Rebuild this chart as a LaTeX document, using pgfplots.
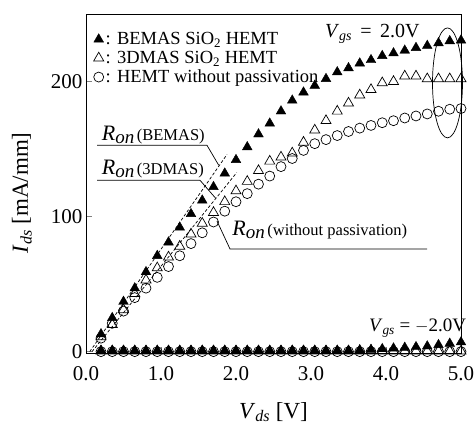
\documentclass[border=0pt]{standalone}
\usepackage{fontspec}
\setmainfont{Liberation Serif}
\usepackage{pgfplots}
\pgfplotsset{compat=1.18}
\pgfplotstableread{
V     A     B     C     Am   Bm   Cm
0.20  13    11    10    0.8  0.4  0
0.35  25    20    21    0.8  0.4  0
0.50  37    31    30    0.8  0.4  0
0.65  47    43    40    0.8  0.4  0
0.80  59    53    47    0.8  0.4  0
0.95  71    62    55    0.8  0.4  0
1.10  81    70    63    0.8  0.4  0
1.25  92    78    71    0.8  0.4  0
1.40  102   87    80    0.8  0.4  0
1.55  112   95    88    0.8  0.4  0
1.70  122   103   96    0.8  0.4  0
1.85  132   111   104   0.8  0.4  0
2.00  142   119   111   0.8  0.4  0
2.15  151.5 126   117   0.8  0.4  0
2.30  161   134   124   0.8  0.4  0
2.45  169   141   130   0.8  0.4  0
2.60  178   144   137   0.8  0.4  0
2.75  186   147   143   0.8  0.4  0
2.90  192   155   149   0.8  0.4  0
3.05  197   164   154   0.8  0.4  0
3.20  202   171   157   0.8  0.4  0
3.35  207   178   160   0.8  0.4  0
3.50  210   184   163   0.8  0.4  0
3.65  213.5 190   165.5 1.2  0.4  0
3.80  216   194   167.5 1.5  0.4  0
3.95  219   199   169.5 2.0  0.4  0
4.10  221   200   171   2.5  0.4  0
4.25  223   204   173   3.0  0.4  0
4.40  225   204   174.5 3.5  0.4  0
4.55  226.5 202   176   4.0  0.4  0
4.70  228.5 202   178   5.0  0.4  0
4.85  230   202   179.5 6.0  0.4  0
5.00  230.5 202   180   7.0  0.4  0
}\datatable
\newcommand{\Ron}[1]{{\fontsize{22}{22}\selectfont\textit{R}\raisebox{-3pt}{\fontsize{19}{19}\selectfont\textit{on}}}\ {\fontsize{16.5}{16.5}\selectfont(#1)}}
\begin{document}
\begin{tikzpicture}
\begin{axis}[
  scale only axis, width=375pt, height=339pt,
  xmin=0, xmax=5, ymin=-1, ymax=250,
  clip=false,
  axis line style={line width=0.8pt},
  xtick={0,1,2,3,4,5}, ytick={0,100,200},
  xticklabel={\pgfmathprintnumber[fixed,fixed zerofill,precision=1]{\tick}},
  /pgf/number format/assume math mode=true,
  tick label style={font=\fontsize{21}{21}\selectfont},
  xticklabel style={yshift=-10pt},
  xtick pos=bottom, ytick pos=left, tick align=inside, major tick length=6pt,
  tick style={line width=0.8pt},
  xlabel={\textit{V}\textsubscript{\textit{ds}} [V]},
  ylabel={\textit{I}\textsubscript{\textit{ds}} [mA/mm]},
  label style={font=\fontsize{23}{23}\selectfont},
  xlabel style={at={(axis description cs:0.5,-0.174)}, anchor=center},
  ylabel style={at={(axis description cs:-0.171,0.472)}, anchor=center},
  legend style={draw=none, fill=none, at={(axis cs:0.1,238)}, anchor=north west,
    font=\fontsize{18.5}{18.5}\selectfont, row sep=1pt, inner sep=0pt,
    /tikz/every even column/.append style={column sep=0pt}},
  legend cell align=left,
  legend image code/.code={\draw[#1] plot coordinates {(0pt,0pt)};},
]
% fits (R_on)
\addplot[black, dash pattern=on 3pt off 2pt, line width=0.7pt, forget plot] coordinates {(0.05,0) (1.88,146)};
\addplot[black, dash pattern=on 3pt off 2pt, line width=0.7pt, forget plot] coordinates {(0.08,0) (2.01,132.6)};
% Vgs = 2.0 V
\addplot[only marks, mark=triangle*, mark size=5.6pt, black, fill=black] table[x=V, y=A] {\datatable};
\addlegendentry{: BEMAS SiO\textsubscript{2} HEMT}
\addplot[only marks, mark=triangle, mark size=5.8pt, black, line width=0.7pt] table[x=V, y=B] {\datatable};
\addlegendentry{: 3DMAS SiO\textsubscript{2} HEMT}
\addplot[only marks, mark=o, mark size=5pt, black, line width=0.7pt] table[x=V, y=C] {\datatable};
\addlegendentry{: HEMT without passivation}
% Vgs = -2.0 V
\addplot[only marks, mark=o, mark size=5pt, black, line width=0.7pt, forget plot] table[x=V, y=Cm] {\datatable};
\addplot[only marks, mark=triangle, mark size=5.8pt, black, line width=0.7pt, forget plot] table[x=V, y=Bm] {\datatable};
\addplot[only marks, mark=triangle*, mark size=5.6pt, black, fill=black, forget plot] table[x=V, y=Am] {\datatable};
% annotations
\draw[line width=0.7pt] (axis cs:0.147,152.8) -- (axis cs:1.613,152.8) -- (axis cs:1.77,138);
\node[anchor=base west, inner sep=0pt] at (axis cs:0.21,156) {\Ron{BEMAS}};
\draw[line width=0.7pt] (axis cs:0.147,126.9) -- (axis cs:1.52,126.9) -- (axis cs:1.73,113.5);
\node[anchor=base west, inner sep=0pt] at (axis cs:0.21,131) {\Ron{3DMAS}};
\draw[line width=0.7pt] (axis cs:4.547,76) -- (axis cs:1.92,76) -- (axis cs:1.747,96.7);
\node[anchor=base west, inner sep=0pt] at (axis cs:1.95,86) {\Ron{without passivation}};
\draw[line width=0.7pt] (axis cs:4.82,199) ellipse [x radius=15pt, y radius=55pt];
\node[anchor=east, inner sep=0pt, font=\fontsize{20}{20}\selectfont] at (axis cs:4.45,235.5) {\textit{V}\textsubscript{\textit{gs}}\ \,=\ \,2.0V};
\node[anchor=south east, inner sep=0pt, font=\fontsize{19}{19}\selectfont] at (axis cs:5.07,10.5) {\textit{V}\textsubscript{\textit{gs}}\ =\ $-$2.0V};
\end{axis}
\pgfresetboundingbox
\path ([shift={(-86pt,-73pt)}]current axis.south west) rectangle ([shift={(13pt,14pt)}]current axis.north east);
\end{tikzpicture}
\end{document}
